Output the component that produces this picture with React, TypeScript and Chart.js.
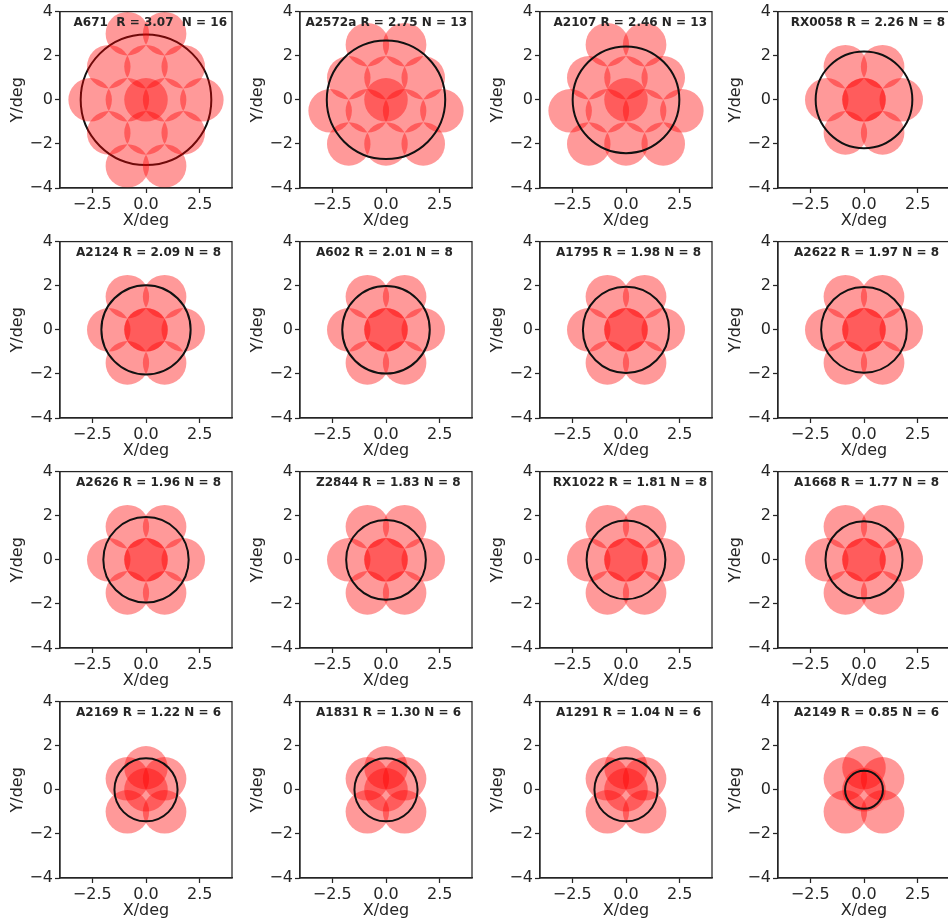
import React, { useEffect, useRef } from 'react';
import { Chart, registerables } from 'chart.js';

Chart.register(...registerables);
Chart.defaults.font.family = "'DejaVu Sans', sans-serif";

// ---- data ----
const clusterNames = ['A671', 'A2572a', 'A2107', 'RX0058', 'A2124', 'A602', 'A1795', 'A2622', 'A2626', 'Z2844', 'RX1022', 'A1668', 'A2169', 'A1831', 'A1291', 'A2149'];
const clusterR = [3.07, 2.75, 2.46, 2.26, 2.09, 2.01, 1.98, 1.97, 1.96, 1.83, 1.81, 1.77, 1.22, 1.30, 1.04, 0.85];
const clusterN = [16, 13, 13, 8, 8, 8, 8, 8, 8, 8, 8, 8, 6, 6, 6, 6];
// radius of the drawn black circle (deg)
const ringRadius = [3.0, 2.72, 2.45, 2.22, 2.05, 2.01, 1.98, 1.97, 1.96, 1.83, 1.81, 1.77, 1.45, 1.45, 1.45, 0.87];
const clusterPattern = ['hex15', 'hex13', 'hex13', 'ring8', 'ring8', 'ring8', 'ring8', 'ring8', 'ring8', 'ring8', 'ring8', 'ring8', 'petal6', 'petal6', 'petal6', 'petal6'];

// pointing centres (deg)
const hex15X = [-0.866, 0.866, -1.732, 0, 1.732, -2.598, -0.866, 0.866, 2.598, -1.732, 0, 1.732, -0.866, 0.866, 0];
const hex15Y = [3.0, 3.0, 1.5, 1.5, 1.5, 0, 0, 0, 0, -1.5, -1.5, -1.5, -3.0, -3.0, 0];
const hex13X = [-0.866, 0.866, -1.732, 0, 1.732, -2.598, -0.866, 0.866, 2.598, -1.732, 0, 1.732, 0];
const hex13Y = [2.5, 2.5, 1.0, 1.0, 1.0, -0.5, -0.5, -0.5, -0.5, -2.0, -2.0, -2.0, 0];
const ring8X = [0, 0, 1.732, 0.866, -0.866, -1.732, -0.866, 0.866];
const ring8Y = [0, 0, 0, 1.5, 1.5, 0, -1.5, -1.5];
const petal6X = [0, 0, -0.866, 0.866, -0.866, 0.866];
const petal6Y = [0, 1.0, 0.5, 0.5, -1.0, -1.0];
const pointingRadius = 1.0; // deg

const xTicks = [-2.5, 0, 2.5];
const xTickLabels = ['\u22122.5', '0.0', '2.5'];
const yTicks = [-4, -2, 0, 2, 4];
const yTickLabels = ['\u22124', '\u22122', '0', '2', '4'];
const xLimits = [-4, 4];
const yLimits = [-4, 4];

const ringBelowPointings = ['A671'];

const patternX: Record<string, number[]> = { hex15: hex15X, hex13: hex13X, ring8: ring8X, petal6: petal6X };
const patternY: Record<string, number[]> = { hex15: hex15Y, hex13: hex13Y, ring8: ring8Y, petal6: petal6Y };

// ---- layout / style ----
const colLefts = [0, 240, 480, 718];
const rowTops = [0, 230, 460, 690];
const INK = '#262626';

const pxPerUnit = (chart: any) => {
  const sx = chart.scales && chart.scales.x;
  const sy = chart.scales && chart.scales.y;
  if (!sx || !sy) return 0;
  const kx = Math.abs(sx.getPixelForValue(1) - sx.getPixelForValue(0));
  const ky = Math.abs(sy.getPixelForValue(1) - sy.getPixelForValue(0));
  if (!isFinite(kx) || !isFinite(ky)) return 0;
  return Math.sqrt(kx * ky);
};

const framePlugin = {
  id: 'frame',
  afterDraw(chart: any) {
    const { ctx, chartArea: a } = chart;
    ctx.save();
    ctx.strokeStyle = INK;
    ctx.lineWidth = 1.25;
    ctx.strokeRect(a.left, a.top, a.right - a.left, a.bottom - a.top);
    ctx.restore();
  },
};

const labelPlugin = {
  id: 'panelLabel',
  afterDatasetsDraw(chart: any, _args: any, opts: any) {
    const { ctx, chartArea: a } = chart;
    ctx.save();
    ctx.font = "bold 12px 'DejaVu Sans', sans-serif";
    ctx.fillStyle = INK;
    ctx.textBaseline = 'middle';
    const w = ctx.measureText(opts.text).width;
    const x = a.left + Math.min(16, a.right - a.left - 5 - w);
    ctx.fillText(opts.text, x, a.top + 11.5);
    ctx.restore();
  },
};

function makeConfig(i: number): any {
  const name = clusterNames[i];
  const sep = name === 'A671' ? '  ' : ' ';
  const text = `${name}${sep}R = ${clusterR[i].toFixed(2)}${sep}N = ${clusterN[i]}`;
  const xs = patternX[clusterPattern[i]];
  const ys = patternY[clusterPattern[i]];
  const below = ringBelowPointings.includes(name);
  const rr = ringRadius[i];

  const pointings = {
    data: xs.map((x, j) => ({ x, y: ys[j] })),
    pointBackgroundColor: 'rgba(255,0,0,0.4)',
    pointBorderWidth: 0,
    pointBorderColor: 'rgba(0,0,0,0)',
    pointRadius: (ctx: any) => pointingRadius * pxPerUnit(ctx.chart),
    pointHoverRadius: (ctx: any) => pointingRadius * pxPerUnit(ctx.chart),
    showLine: false,
    clip: 0,
    order: below ? 0 : 1,
  };
  const ring = {
    data: [{ x: 0, y: 0 }],
    pointBackgroundColor: 'rgba(0,0,0,0)',
    pointBorderColor: '#111111',
    pointBorderWidth: 2,
    pointRadius: (ctx: any) => rr * pxPerUnit(ctx.chart),
    pointHoverRadius: (ctx: any) => rr * pxPerUnit(ctx.chart),
    showLine: false,
    clip: 4,
    order: below ? 1 : 0,
  };

  const tickFont = { size: 16 };
  const titleFont = { size: 16 };

  return {
    type: 'scatter',
    data: { datasets: [pointings, ring] },
    plugins: [framePlugin, labelPlugin],
    options: {
      responsive: false,
      animation: false,
      events: [],
      devicePixelRatio: 1,
      layout: { padding: { top: 11, right: 8, left: 0, bottom: 0 }, autoPadding: false },
      plugins: {
        legend: { display: false },
        tooltip: { enabled: false },
        panelLabel: { text },
      },
      scales: {
        x: {
          type: 'linear',
          min: xLimits[0],
          max: xLimits[1],
          afterBuildTicks: (s: any) => { s.ticks = xTicks.map((v) => ({ value: v })); },
          afterFit: (s: any) => { s.height = 42; },
          ticks: {
            callback: (_v: any, idx: number) => xTickLabels[idx],
            font: tickFont,
            color: INK,
            padding: 2,
            maxRotation: 0,
            autoSkip: false,
          },
          grid: { drawOnChartArea: false, drawTicks: true, tickLength: 5, tickWidth: 1.25, tickColor: INK },
          border: { display: true, color: INK, width: 1.25 },
          title: { display: true, text: 'X/deg', font: titleFont, color: INK, padding: { top: 0, bottom: 0 } },
        },
        y: {
          type: 'linear',
          min: yLimits[0],
          max: yLimits[1],
          afterBuildTicks: (s: any) => { s.ticks = yTicks.map((v) => ({ value: v })); },
          afterFit: (s: any) => { s.width = 60; },
          ticks: {
            callback: (_v: any, idx: number) => yTickLabels[idx],
            font: tickFont,
            color: INK,
            padding: 2,
            autoSkip: false,
          },
          grid: { drawOnChartArea: false, drawTicks: true, tickLength: 5, tickWidth: 1.25, tickColor: INK },
          border: { display: true, color: INK, width: 1.25 },
          title: { display: true, text: 'Y/deg', font: titleFont, color: INK, padding: { top: 8, bottom: 0 } },
        },
      },
    },
  };
}

export default function App() {
  const refs = useRef<(HTMLCanvasElement | null)[]>([]);
  useEffect(() => {
    const charts = clusterNames.map((_n, i) => new Chart(refs.current[i] as HTMLCanvasElement, makeConfig(i)));
    return () => charts.forEach((c) => c.destroy());
  }, []);
  return (
    <div style={{ position: 'absolute', left: 0, top: 0, width: 948, height: 924, overflow: 'hidden', background: '#ffffff' }}>
      {clusterNames.map((n, i) => (
        <canvas
          key={n}
          ref={(el) => { refs.current[i] = el; }}
          width={240}
          height={230}
          style={{ position: 'absolute', left: colLefts[i % 4], top: rowTops[Math.floor(i / 4)], width: 240, height: 230 }}
        />
      ))}
    </div>
  );
}
